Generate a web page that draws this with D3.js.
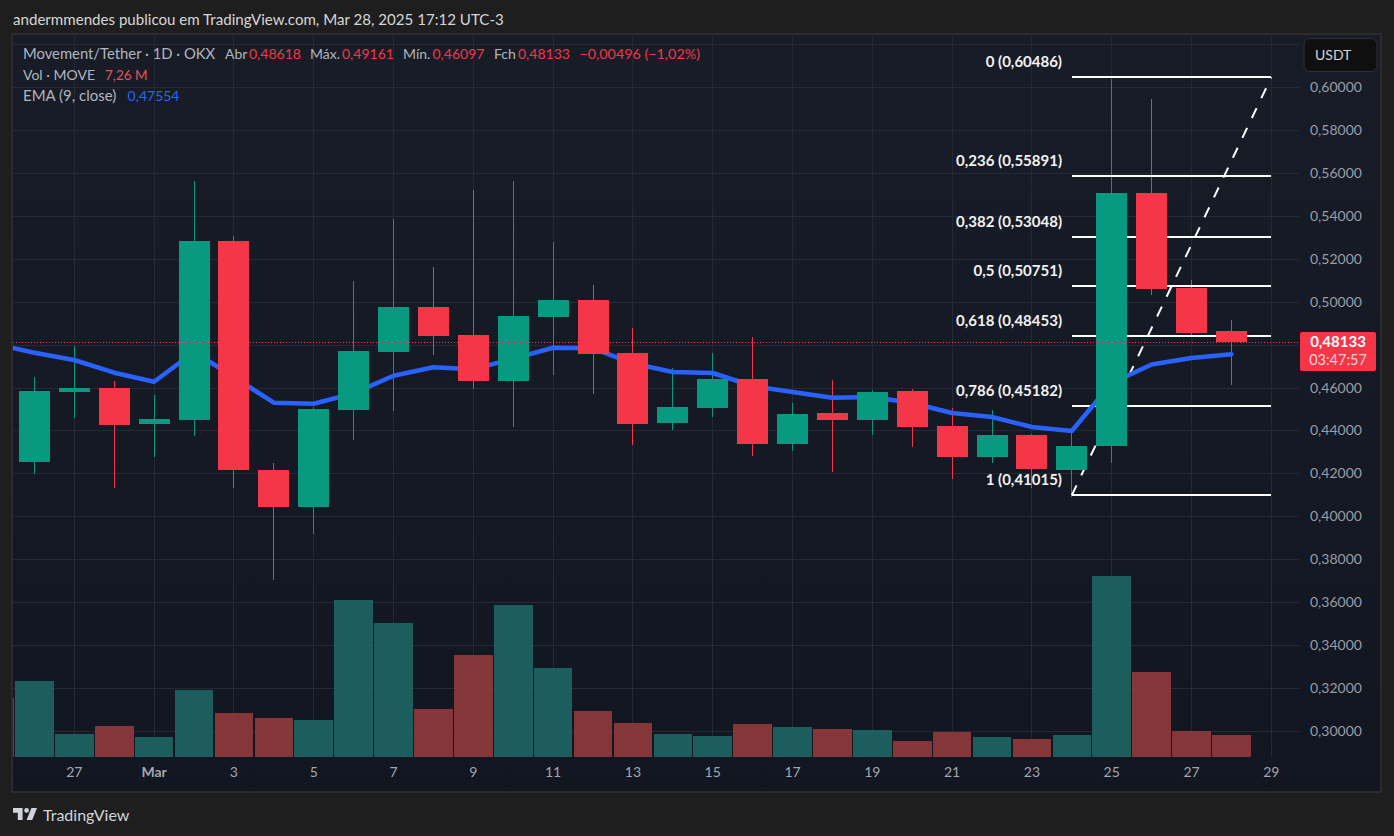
<!DOCTYPE html>
<html><head><meta charset="utf-8">
<script src="https://cdn.jsdelivr.net/npm/d3@7/dist/d3.min.js"></script>
<style>
html,body{margin:0;padding:0;background:#1e1e1e;overflow:hidden}
svg{display:block}
text{font-family:"Lato","Noto Sans",sans-serif}
</style></head><body>
<svg id="c" width="1394" height="836"></svg>
<script>
const days=["Feb 25","Feb 26","Feb 27","Feb 28","Mar 1","Mar 2","Mar 3","Mar 4","Mar 5","Mar 6","Mar 7","Mar 8","Mar 9","Mar 10","Mar 11","Mar 12","Mar 13","Mar 14","Mar 15","Mar 16","Mar 17","Mar 18","Mar 19","Mar 20","Mar 21","Mar 22","Mar 23","Mar 24","Mar 25","Mar 26","Mar 27","Mar 28"];
const opens=[null,.42531,.45792,.45978,.44301,.44487,.52826,.42158,.40434,.44953,.47655,.49751,.48447,.46304,.49285,.50077,.47608,.44347,.45046,.46397,.43369,.44813,.44487,.45838,.44208,.42764,.43788,.42158,.43276,.55062,.50636,.48618];
const closes=[null,.45838,.45978,.44254,.44534,.52826,.42158,.40434,.45000,.47702,.49751,.48400,.46304,.49332,.50077,.47562,.44301,.45093,.46397,.43369,.44767,.44487,.45792,.44161,.42764,.43788,.42205,.43276,.55062,.50590,.48540,.48133];
const highs=[null,.46490,.47934,.46304,.45652,.55621,.53059,.42484,.45093,.50963,.53851,.51615,.55202,.55621,.52779,.50776,.48773,.46910,.47608,.48354,.45279,.46351,.45885,.45931,.45046,.44953,.43835,.44021,.60373,.59441,.51009,.49161];
const lows=[null,.41972,.44580,.41319,.42764,.43742,.41319,.37034,.39177,.43555,.44906,.47515,.45931,.44161,.46584,.45698,.43323,.44021,.44627,.42810,.43043,.42065,.43788,.43229,.41739,.42484,.41319,.40900,.42484,.50310,.48354,.46097];
const volumes=[19.5,25.1,7.6,10.2,6.6,22.1,14.5,12.9,12.2,51.8,44.2,15.8,33.7,50.2,29.4,15.2,11.2,7.6,6.9,10.9,9.9,9.2,8.9,5.3,8.3,6.6,5.9,7.3,59.7,28.1,8.6,7.26];
const volumeUp=[true,true,true,false,true,true,false,false,true,true,true,false,false,true,true,false,false,true,true,false,true,false,true,false,false,true,false,true,true,false,false,false];
const ema=[.48028,.47622,.47282,.46691,.46271,.47655,.46490,.45293,.45247,.45726,.46551,.46942,.46849,.47348,.47855,.47827,.47124,.46723,.46677,.46071,.45792,.45526,.45559,.45279,.44813,.44627,.44161,.43975,.46211,.47073,.47375,.47554];
const priceTicks=[.30,.32,.34,.36,.38,.40,.42,.44,.46,.50,.52,.54,.56,.58,.60];
const gridOnlyPrice=[.48,.62];
const dayTickIdx=[2,4,6,8,10,12,14,16,18,20,22,24,26,28,30,32];
const dayTickLabels=["27","Mar","3","5","7","9","11","13","15","17","19","21","23","25","27","29"];
const fibLevels=["0","0,236","0,382","0,5","0,618","0,786","1"];
const fibPrices=[.60486,.55891,.53048,.50751,.48453,.45182,.41015];
const lastClose=.48133;

const comma=s=>s.replace(".",",");
const svg=d3.select("#c");
const L=13,R=1299,T=35,B=757;
const x=d3.scaleLinear().domain([0,31]).range([-5.5,1231.4]);
const y=d3.scaleLinear().domain([.30,.60]).range([731,87]);
const yV=d3.scaleLinear().domain([0,100]).range([757,757-303]);

const defs=svg.append("defs");
const g=defs.append("linearGradient").attr("id","bg").attr("x1",0).attr("x2",0).attr("y1",0).attr("y2",1);
g.append("stop").attr("offset",0).attr("stop-color","#181c27");
g.append("stop").attr("offset",1).attr("stop-color","#111620");
defs.append("clipPath").attr("id","plot").append("rect").attr("x",L).attr("y",T).attr("width",R-L).attr("height",B-T);

svg.append("rect").attr("x",12).attr("y",34).attr("width",1369).attr("height",758).attr("fill","url(#bg)").attr("stroke","#2b2b2f").attr("stroke-width",2);

const plot=svg.append("g").attr("clip-path","url(#plot)");
const crisp=s=>s.attr("shape-rendering","crispEdges");
// grid
crisp(plot.append("g").selectAll("line").data(priceTicks.concat(gridOnlyPrice)).join("line")
 .attr("x1",L).attr("x2",R).attr("y1",d=>Math.round(y(d))+.5).attr("y2",d=>Math.round(y(d))+.5).attr("stroke","#252933"));
crisp(plot.append("g").selectAll("line").data(dayTickIdx).join("line")
 .attr("y1",T).attr("y2",B).attr("x1",d=>Math.floor(x(d))+.5).attr("x2",d=>Math.floor(x(d))+.5).attr("stroke","#252933"));
// volume
const barW=38.6;
crisp(plot.append("g").selectAll("rect").data(volumes).join("rect")
 .attr("x",(d,i)=>x(i)-barW/2).attr("width",barW).attr("y",d=>yV(d)).attr("height",d=>757-yV(d))
 .attr("fill",(d,i)=>volumeUp[i]?"#1e6564":"#913a3c").attr("fill-opacity",.9));
// candles data
const idx=d3.range(1,days.length);
const col=i=>closes[i]>=opens[i]?"#089981":"#f43648";
// wicks
crisp(plot.append("g").selectAll("line").data(idx).join("line")
 .attr("x1",i=>Math.floor(x(i))+.5).attr("x2",i=>Math.floor(x(i))+.5)
 .attr("y1",i=>y(highs[i])).attr("y2",i=>y(lows[i])).attr("stroke",col));
// fib lines
const fibY=d=>y(d)+.7;
crisp(plot.append("g").selectAll("line").data(fibPrices).join("line")
 .attr("x1",x(27)).attr("x2",x(32)).attr("y1",fibY).attr("y2",fibY)
 .attr("stroke","#ffffff").attr("stroke-width",2));
// fib trend
plot.append("line").attr("x1",x(27)).attr("x2",x(32)).attr("y1",fibY(fibPrices[6])).attr("y2",fibY(fibPrices[0]))
 .attr("stroke","#ffffff").attr("stroke-width",2).attr("stroke-dasharray","11 11");
// EMA
plot.append("path").datum(ema).attr("fill","none").attr("stroke","#2962ff").attr("stroke-width",4.5).attr("stroke-linejoin","round").attr("stroke-linecap","round")
 .attr("d",d3.line().x((d,i)=>x(i)).y(d=>y(d)));
// bodies
const bodyW=31;
crisp(plot.append("g").selectAll("rect").data(idx).join("rect")
 .attr("x",i=>Math.round(x(i)-bodyW/2)).attr("width",bodyW)
 .attr("y",i=>y(Math.max(opens[i],closes[i]))).attr("height",i=>Math.max(1,Math.abs(y(opens[i])-y(closes[i]))))
 .attr("fill",col));
// last price line
crisp(plot.append("line").attr("x1",L).attr("x2",R).attr("y1",Math.round(y(lastClose))+.5).attr("y2",Math.round(y(lastClose))+.5)
 .attr("stroke","#f43648").attr("stroke-dasharray","1 2"));
// fib labels
svg.append("g").selectAll("text").data(fibPrices).join("text")
 .attr("x",1062).attr("y",d=>y(d)-14.5).attr("dy",".35em").attr("text-anchor","end")
 .attr("fill","#f2f2f2").attr("font-size",15).attr("font-weight",700)
 .text((d,i)=>`${fibLevels[i]} (${comma(d.toFixed(5))})`);
// axes
const ay=svg.append("g").attr("transform",`translate(${R},0)`).call(d3.axisRight(y).tickValues(priceTicks).tickSize(0).tickPadding(11).tickFormat(d=>comma(d.toFixed(5))));
ay.select(".domain").remove();
ay.selectAll("text").attr("fill","#9a9da6").attr("font-size",14).attr("font-family",'"Lato","Noto Sans",sans-serif');
const ax=svg.append("g").attr("transform",`translate(-0.5,${B})`).call(d3.axisBottom(x).tickValues(dayTickIdx).tickSize(0).tickPadding(10).tickFormat((d,i)=>dayTickLabels[i]));
ax.select(".domain").remove();
ax.selectAll("text").attr("fill","#a3a6af").attr("font-size",14).attr("font-family",'"Lato","Noto Sans",sans-serif')
  .attr("font-weight",(d,i)=>dayTickLabels[i]==="Mar"?700:400);
// price badge
svg.append("rect").attr("x",1300).attr("y",332).attr("width",76).attr("height",39).attr("rx",2).attr("fill","#f43648");
svg.append("text").attr("x",1338).attr("y",342).attr("dy",".35em").attr("text-anchor","middle").attr("fill","#fff").attr("font-size",15).attr("font-weight",700).text(comma(lastClose.toFixed(5)));
svg.append("text").attr("x",1338).attr("y",360).attr("dy",".35em").attr("text-anchor","middle").attr("fill","#fcd0d4").attr("font-size",14.5).text("03:47:57");
// currency button
svg.append("rect").attr("x",1304).attr("y",38.5).attr("width",73).attr("height",33).attr("rx",6).attr("fill","#0f0f0f").attr("stroke","#2e3138");
svg.append("text").attr("x",1315).attr("y",55).attr("dy",".35em").attr("fill","#d1d4dc").attr("font-size",14).text("USDT");
// header + legend
const tx=(px,py,s,c,fs,w)=>svg.append("text").attr("x",px).attr("y",py).attr("dy",".35em").attr("fill",c).attr("font-size",fs||14).attr("font-weight",w||400).text(s);
tx(13,20,"andermmendes publicou em TradingView.com, Mar 28, 2025 17:12 UTC-3","#d6d6d6",15.1);
const grey="#b2b5be",red="#f43648";
tx(23,54,"Movement/Tether · 1D · OKX",grey,14.8);
tx(225,54,"Abr",grey);tx(249,54,"0,48618",red);
tx(310,54,"Máx.",grey);tx(342,54,"0,49161",red);
tx(403,54,"Mín.",grey);tx(432.5,54,"0,46097",red);
tx(494,54,"Fch",grey);tx(518,54,"0,48133",red);
tx(579.5,54,"−0,00496 (−1,02%)",red,14.3);
tx(23,75,"Vol · MOVE",grey);tx(105,75,"7,26 M","#e0565c",13.5);
tx(23,96,"EMA (9, close)",grey,15);tx(127.6,96,"0,47554","#2962ff");
// logo
svg.append("path").attr("transform","translate(11.4,803.2) scale(.8)").attr("fill","#d1d4dc")
 .attr("d","M14 6H2v6h6v9h6V6zm12 15h-7l6-15h7l-6 15zm-7-9a3 3 0 1 0 0-6 3 3 0 0 0 0 6z");
tx(43,815,"TradingView","#d1d4dc",16);
</script></body></html>
